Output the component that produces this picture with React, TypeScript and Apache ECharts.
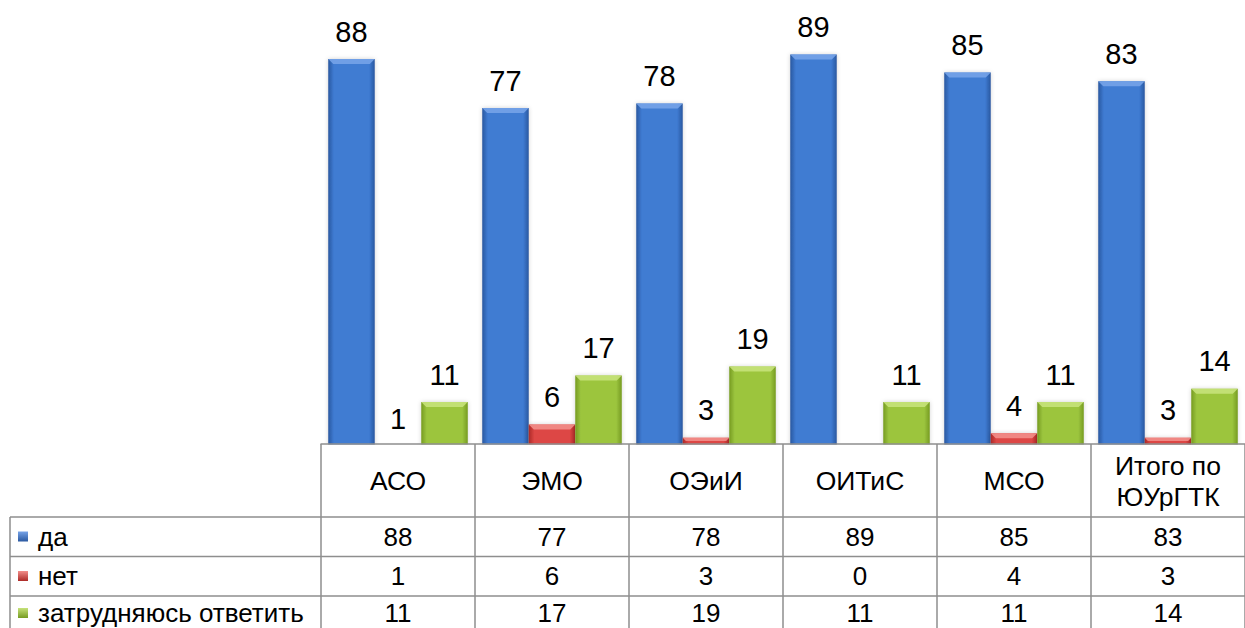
import React, { useEffect, useRef } from "react";
import * as echarts from "echarts";

const categories = ["АСО", "ЭМО", "ОЭиИ", "ОИТиС", "МСО", "Итого по\nЮУрГТК"];
const seriesNames = ["да", "нет", "затрудняюсь ответить"];
const daValues = [88, 77, 78, 89, 85, 83];
const netValues = [1, 6, 3, 0, 4, 3];
const zatrValues = [11, 17, 19, 11, 11, 14];

const Y_MIN = 1.6;
const Y_MAX = 100;
const GAP = 0.094;

const FONT = '"Liberation Sans", Arial, sans-serif';
const LINE = "#8e8e8e";

const palettes = [
  { mid: "#3f7bd2", edge: "#2a58a0", top: "#76a3e8" },
  { mid: "#dd4744", edge: "#ac2a27", top: "#f28e8a" },
  { mid: "#9cc53e", edge: "#769b22", top: "#c6e27a" },
];

function hGrad(p: { mid: string; edge: string }) {
  return new echarts.graphic.LinearGradient(0, 0, 1, 0, [
    { offset: 0, color: p.edge },
    { offset: 0.12, color: p.mid },
    { offset: 0.88, color: p.mid },
    { offset: 1, color: p.edge },
  ]);
}

export default function App() {
  const ref = useRef<HTMLDivElement>(null);
  useEffect(() => {
    if (!ref.current) return;
    const chart = echarts.init(ref.current, null, { renderer: "svg" });
    const gridLeft = 321;
    const gridWidth = 927;
    const baseY = 444;
    const allSeries = [daValues, netValues, zatrValues];

    const barSeries = allSeries.map((vals, i) => ({
      name: seriesNames[i],
      type: "bar",
      data: vals,
      clip: false,
      barGap: "0%",
      barCategoryGap: GAP * 100 + "%",
      z: 2,
      itemStyle: {
        color: hGrad(palettes[i]),
        shadowColor: "rgba(0,0,0,0.18)",
        shadowBlur: 4,
      },
      label: {
        show: true,
        position: "top",
        distance: 13,
        color: "#000",
        fontFamily: FONT,
        fontSize: 29,
        formatter: (p: any) => (p.value === 0 ? "" : String(p.value)),
      },
    }));

    const bevelSeries = allSeries.map((vals, si) => ({
      type: "custom",
      silent: true,
      z: 3,
      data: vals.map((v, ci) => [ci, v]),
      encode: { x: 0, y: 1 },
      renderItem: (params: any, api: any) => {
        const ci = api.value(0);
        const v = api.value(1);
        const top = api.coord([ci, v]);
        const base = api.coord([ci, Y_MIN])[1];
        const catW = api.size([1, 0])[0];
        const barW = (catW * (1 - GAP)) / 3;
        const left = top[0] - 1.5 * barW + si * barW;
        const h = base - top[1];
        if (h <= 1) return null;
        const bev = Math.min(5, h / 2);
        const y = top[1];
        return {
          type: "polygon",
          shape: {
            points: [
              [left, y],
              [left + barW, y],
              [left + barW - bev, y + bev],
              [left + bev, y + bev],
            ],
          },
          style: { fill: palettes[si].top, opacity: 0.9 },
        };
      },
    }));

    chart.setOption({
      animation: false,
      grid: { left: gridLeft, width: gridWidth, top: 5.6, bottom: 628 - baseY },
      xAxis: {
        type: "category",
        data: categories,
        z: 20,
        axisLine: { show: true, lineStyle: { color: LINE, width: 1.5 } },
        axisTick: { show: true, length: 190, lineStyle: { color: LINE, width: 1.5 } },
        axisLabel: {
          margin: 37,
          verticalAlign: "middle",
          color: "#000",
          fontFamily: FONT,
          fontSize: 26.5,
          lineHeight: 31,
          interval: 0,
        },
      },
      yAxis: { type: "value", min: Y_MIN, max: Y_MAX, show: false, splitLine: { show: false } },
      series: [...barSeries, ...bevelSeries],
    });

    const xs = categories.map((_, i) => chart.convertToPixel({ xAxisIndex: 0 }, i) as number);
    const rowLines = [517, 556.5, 596];
    const rowCenters = [536.5, 576, 613];
    const graphics: any[] = [];
    graphics.push({
      type: "rect",
      z: 10,
      shape: { x: 0, y: baseY + 0.5, width: 1245, height: 628 - baseY },
      style: { fill: "#fff" },
    });
    rowLines.forEach((y) =>
      graphics.push({
        type: "line",
        z: 21,
        shape: { x1: 10, y1: y, x2: 1245, y2: y },
        style: { stroke: LINE, lineWidth: 1.5 },
      })
    );
    graphics.push({
      type: "line",
      z: 21,
      shape: { x1: 10, y1: 517, x2: 10, y2: 628 },
      style: { stroke: LINE, lineWidth: 1.5 },
    });
    allSeries.forEach((vals, si) => {
      const cy = rowCenters[si];
      graphics.push({
        type: "rect",
        z: 21,
        shape: { x: 18, y: cy - 5, width: 10, height: 10 },
        style: {
          fill: new echarts.graphic.LinearGradient(0, 0, 0, 1, [
            { offset: 0, color: palettes[si].top },
            { offset: 1, color: palettes[si].edge },
          ]),
        },
      });
      graphics.push({
        type: "text",
        z: 21,
        x: 38,
        y: cy,
        style: {
          text: seriesNames[si],
          fill: "#000",
          font: `26px ${FONT}`,
          lineHeight: 26,
          align: "left",
          verticalAlign: "middle",
        },
      });
      vals.forEach((v, ci) => {
        graphics.push({
          type: "text",
          z: 21,
          x: xs[ci],
          y: cy,
          style: {
            text: String(v),
            fill: "#000",
            font: `26px ${FONT}`,
            lineHeight: 26,
            align: "center",
            verticalAlign: "middle",
          },
        });
      });
    });
    chart.setOption({ graphic: graphics });
    return () => chart.dispose();
  }, []);
  return (
    <div
      ref={ref}
      style={{ position: "absolute", left: 0, top: 0, width: 1245, height: 628, background: "#fff" }}
    />
  );
}
